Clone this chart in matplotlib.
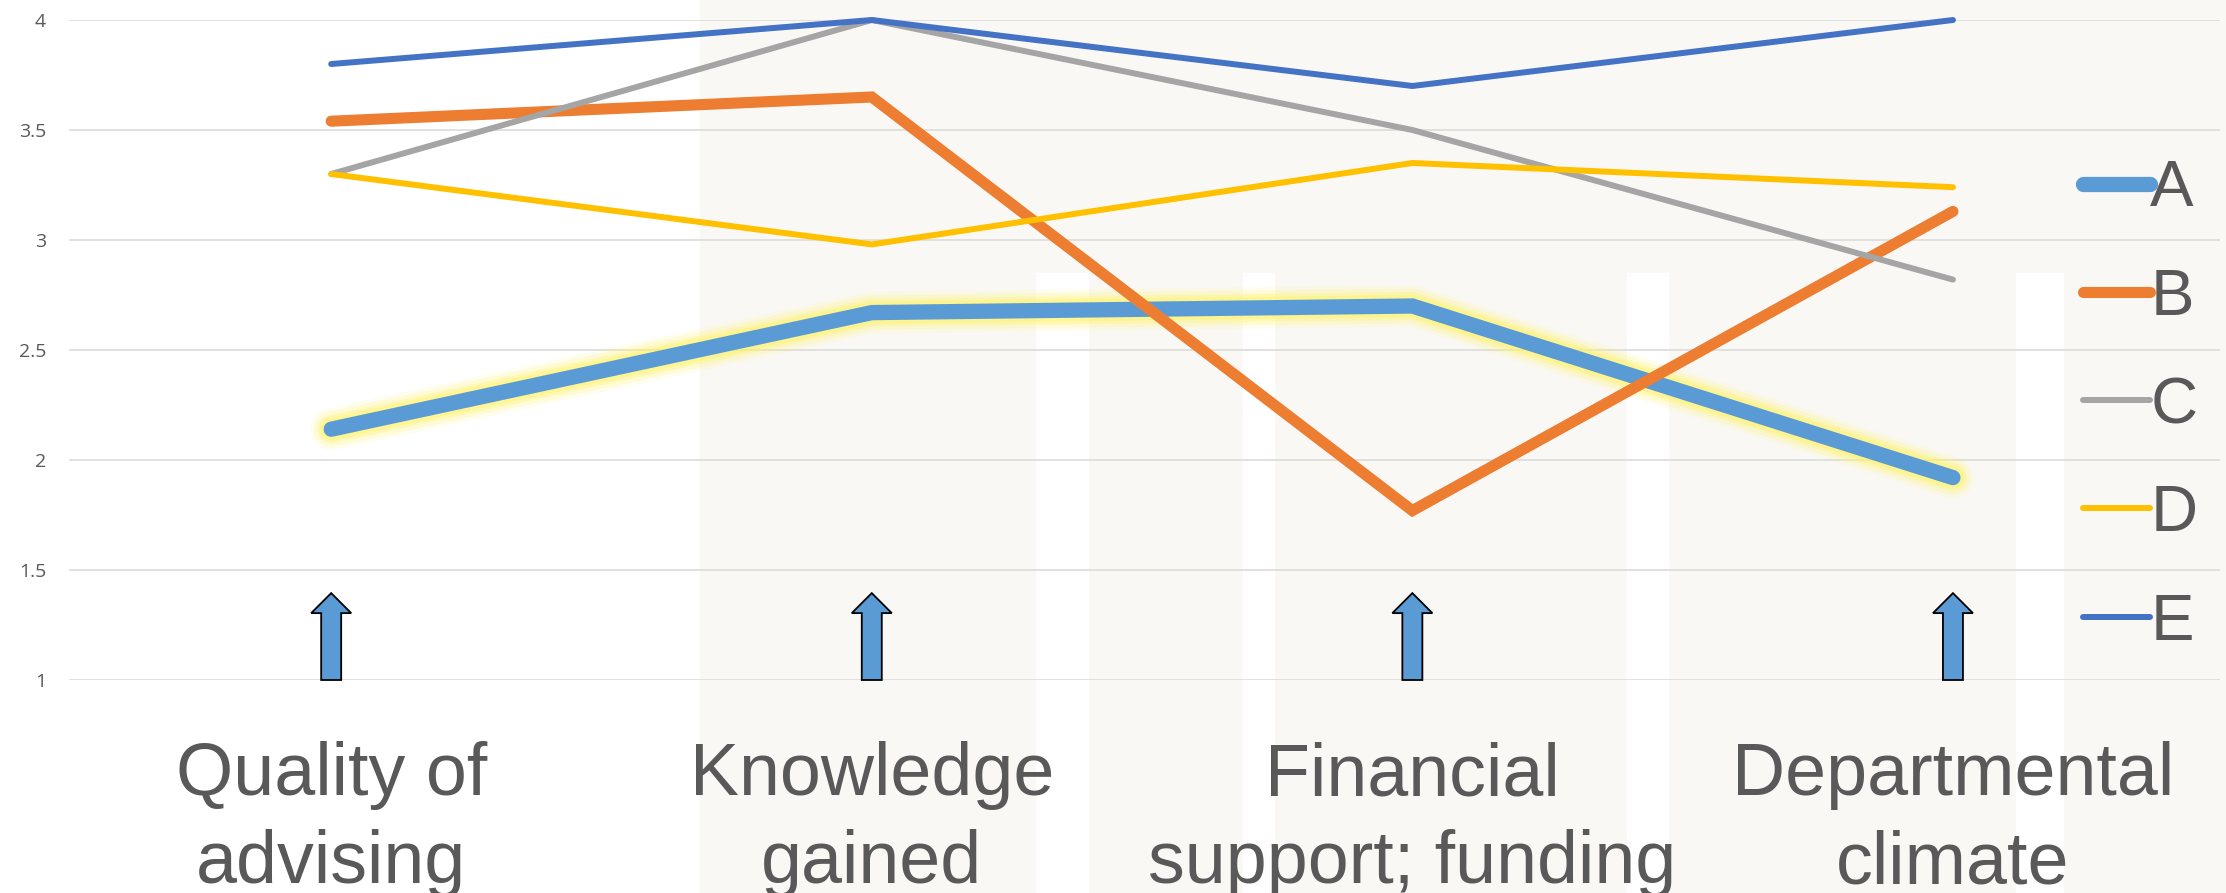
import numpy as np
import matplotlib.pyplot as plt
from matplotlib.patches import FancyArrow, Rectangle
import matplotlib.transforms as mtransforms

categories = ["Quality of\nadvising", "Knowledge\ngained",
              "Financial\nsupport; funding", "Departmental\nclimate"]
series_names = ["A", "B", "C", "D", "E"]
a_vals = [2.14, 2.67, 2.70, 1.92]
b_vals = [3.54, 3.65, 1.77, 3.13]
c_vals = [3.30, 4.00, 3.50, 2.82]
d_vals = [3.30, 2.98, 3.35, 3.24]
e_vals = [3.80, 4.00, 3.70, 4.00]
y_ticks = [1, 1.5, 2, 2.5, 3, 3.5, 4]
y_tick_labels = ["1", "1.5", "2", "2.5", "3", "3.5", "4"]
arrow_top = 1.395

colors = ["#5B9BD5", "#ED7D31", "#A5A5A5", "#FFC000", "#4472C4"]
widths = [11, 8, 4.3, 4.3, 4.3]
text_gray = "#595959"

plt.rcParams['font.family'] = ['Liberation Sans', 'DejaVu Sans']

fig = plt.figure(figsize=(22.26, 8.93), dpi=100)

# faint watermark in the background
bg = "#FAF8F5"
fig.patches.append(Rectangle((700 / 2226, 0), 1 - 700 / 2226, 1,
                             transform=fig.transFigure, color=bg, zorder=-10))
for x0, x1 in [(1036, 1088), (1243, 1274), (1627, 1668), (2016, 2063)]:
    fig.patches.append(Rectangle((x0 / 2226, 0), (x1 - x0) / 2226, 1 - 273 / 893,
                                 transform=fig.transFigure, color="white", zorder=-9))

ax = fig.add_axes([69 / 2226, 1 - 680 / 893, (2220 - 69) / 2226, 660 / 893])
ax.patch.set_alpha(0)

x = np.arange(len(categories))
all_vals = [a_vals, b_vals, c_vals, d_vals, e_vals]

# yellow glow under series A
for lw, al in [(30, 0.12), (25, 0.18), (20, 0.3), (16, 0.45)]:
    ax.plot(x, a_vals, color="#FFF36B", lw=lw, alpha=al,
            solid_capstyle="round", solid_joinstyle="round", clip_on=False, zorder=2)

for vals, name, c, w in zip(all_vals, series_names, colors, widths):
    ax.plot(x, vals, color=c, lw=w, label=name, solid_capstyle="round",
            solid_joinstyle="miter", clip_on=False, zorder=3)

# arrows under each category
for xi in x:
    ax.add_patch(FancyArrow(xi, 1, 0, arrow_top - 1, width=0.037, head_width=0.074,
                            head_length=0.091, length_includes_head=True,
                            facecolor="#5B9BD5", edgecolor="black", lw=1.3,
                            clip_on=False, zorder=4))

ax.set_xlim(-0.485, 3.494)
ax.set_ylim(1, 4)
ax.set_yticks(y_ticks)
ax.set_yticklabels(y_tick_labels, fontfamily="Open Sans")
ax.set_xticks([])
ax.tick_params(axis="y", length=0, pad=16.5, labelsize=14, labelcolor=text_gray)
ax.grid(axis="y", color="#D9D9D9", lw=1.1)
ax.set_axisbelow(True)
for s in ax.spines.values():
    s.set_visible(False)

trans = mtransforms.blended_transform_factory(ax.transData, fig.transFigure)
for xi, lab in zip(x, categories):
    ax.text(xi, 1 - 741 / 893, lab, transform=trans, ha="center", va="top",
            fontsize=53, color=text_gray, linespacing=1.36)

leg = ax.legend(loc="center left", bbox_to_anchor=(2083 / 2226, 1 - 406 / 893),
                bbox_transform=fig.transFigure, frameon=False, fontsize=47,
                handlelength=1.03, handletextpad=0.0, labelspacing=0.74,
                borderpad=0, borderaxespad=0)
for t in leg.get_texts():
    t.set_color(text_gray)

fig.savefig("out.png", dpi=100)
